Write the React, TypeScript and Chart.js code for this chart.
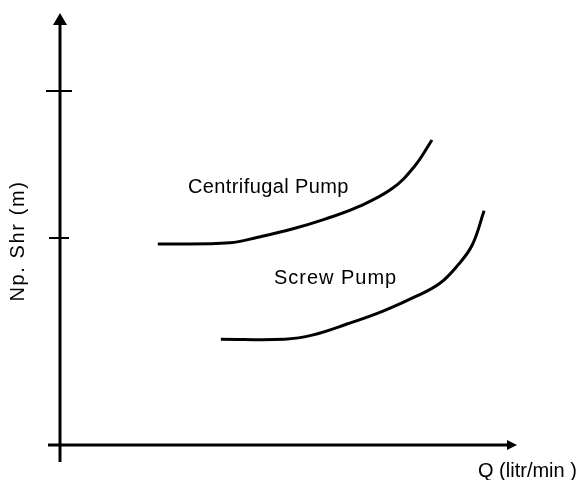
import React, { useEffect, useRef } from "react";
import { Chart, registerables } from "chart.js";

Chart.register(...registerables);

// Curve data (arbitrary units: Q on x, NPSHr on y)
const centrifugalQ = [21.4, 37.2, 43.3, 50.8, 58.0, 65.2, 72.6, 77.5, 81.4];
const centrifugalH = [46.5, 46.8, 48.1, 50.0, 52.3, 55.1, 59.3, 64.4, 70.6];

const screwQ = [35.2, 49.2, 55.4, 62.8, 70.7, 78.1, 83.2, 87.1, 90.2, 92.8];
const screwH = [24.5, 24.5, 25.5, 28.0, 31.0, 34.5, 37.5, 41.7, 46.3, 54.2];

const seriesNames = ["Centrifugal Pump", "Screw Pump"];
const labelQ = [28.0, 46.8];
const labelH = [58.3, 37.3];

const yTickValues = [48, 82];
const xTitle = "Q (litr/min )";
const yTitle = "Np. Shr (m)";

const W = 581;
const H = 480;

const toPoints = (xs: number[], ys: number[]) => xs.map((x, i) => ({ x, y: ys[i] }));

const axesPlugin = {
  id: "sketchAxes",
  afterDraw(chart: any) {
    const ctx = chart.ctx as CanvasRenderingContext2D;
    const xs = chart.scales.x;
    const ys = chart.scales.y;
    const x0 = xs.getPixelForValue(0);
    const y0 = ys.getPixelForValue(0);
    const xEnd = xs.getPixelForValue(xs.max);
    const yEnd = ys.getPixelForValue(ys.max);
    ctx.save();
    ctx.strokeStyle = "#000";
    ctx.fillStyle = "#000";
    ctx.lineWidth = 3;
    ctx.lineCap = "butt";
    // y axis
    ctx.beginPath();
    ctx.moveTo(x0, y0 + 17);
    ctx.lineTo(x0, yEnd + 8);
    ctx.stroke();
    // y arrow
    ctx.beginPath();
    ctx.moveTo(x0, yEnd);
    ctx.lineTo(x0 - 7, yEnd + 12);
    ctx.lineTo(x0 + 7, yEnd + 12);
    ctx.closePath();
    ctx.fill();
    // x axis
    ctx.beginPath();
    ctx.moveTo(x0 - 12, y0);
    ctx.lineTo(xEnd - 6, y0);
    ctx.stroke();
    ctx.beginPath();
    ctx.moveTo(xEnd, y0);
    ctx.lineTo(xEnd - 10, y0 - 5);
    ctx.lineTo(xEnd - 10, y0 + 5);
    ctx.closePath();
    ctx.fill();
    // y ticks
    ctx.lineWidth = 2;
    const half = [10, 13];
    yTickValues.forEach((v, i) => {
      const py = Math.round(ys.getPixelForValue(v));
      ctx.beginPath();
      ctx.moveTo(x0 - half[i] - 1, py);
      ctx.lineTo(x0 + half[i] - 1, py);
      ctx.stroke();
    });
    // series labels
    ctx.font = '20px "Liberation Sans", Arial, sans-serif';
    ctx.textAlign = "left";
    ctx.textBaseline = "alphabetic";
    const spacing = ["0.4px", "1px"];
    seriesNames.forEach((name, i) => {
      (ctx as any).letterSpacing = spacing[i];
      ctx.fillText(name, xs.getPixelForValue(labelQ[i]), ys.getPixelForValue(labelH[i]));
    });
    // x title
    (ctx as any).letterSpacing = "0px";
    ctx.textBaseline = "middle";
    ctx.fillText(xTitle, xEnd - 39, y0 + 26);
    // y title
    (ctx as any).letterSpacing = "1.6px";
    ctx.save();
    ctx.translate(18, (ys.getPixelForValue(0) + ys.getPixelForValue(ys.max)) / 2 + 12);
    ctx.rotate(-Math.PI / 2);
    ctx.textAlign = "center";
    ctx.fillText(yTitle, 0, 0);
    ctx.restore();
    ctx.restore();
  },
};

export default function App() {
  const ref = useRef<HTMLCanvasElement | null>(null);
  useEffect(() => {
    document.body.style.margin = "0";
    const canvas = ref.current;
    if (!canvas) return;
    const chart = new Chart(canvas, {
      type: "line",
      data: {
        datasets: [
          {
            label: seriesNames[0],
            data: toPoints(centrifugalQ, centrifugalH),
            borderColor: "#000",
            borderWidth: 3,
            pointRadius: 0,
            tension: 0.4,
            fill: false,
          },
          {
            label: seriesNames[1],
            data: toPoints(screwQ, screwH),
            borderColor: "#000",
            borderWidth: 3,
            pointRadius: 0,
            tension: 0.4,
            fill: false,
          },
        ],
      },
      options: {
        responsive: false,
        animation: false,
        layout: { padding: { left: 60, right: 64, top: 13, bottom: 35 } },
        plugins: { legend: { display: false }, tooltip: { enabled: false } },
        scales: {
          x: { type: "linear", min: 0, max: 100, display: false },
          y: { type: "linear", min: 0, max: 100, display: false },
        },
      },
      plugins: [axesPlugin],
    });
    return () => chart.destroy();
  }, []);
  return (
    <div style={{ width: W, height: H, background: "#fff" }}>
      <canvas ref={ref} width={W} height={H} style={{ display: "block" }} />
    </div>
  );
}
